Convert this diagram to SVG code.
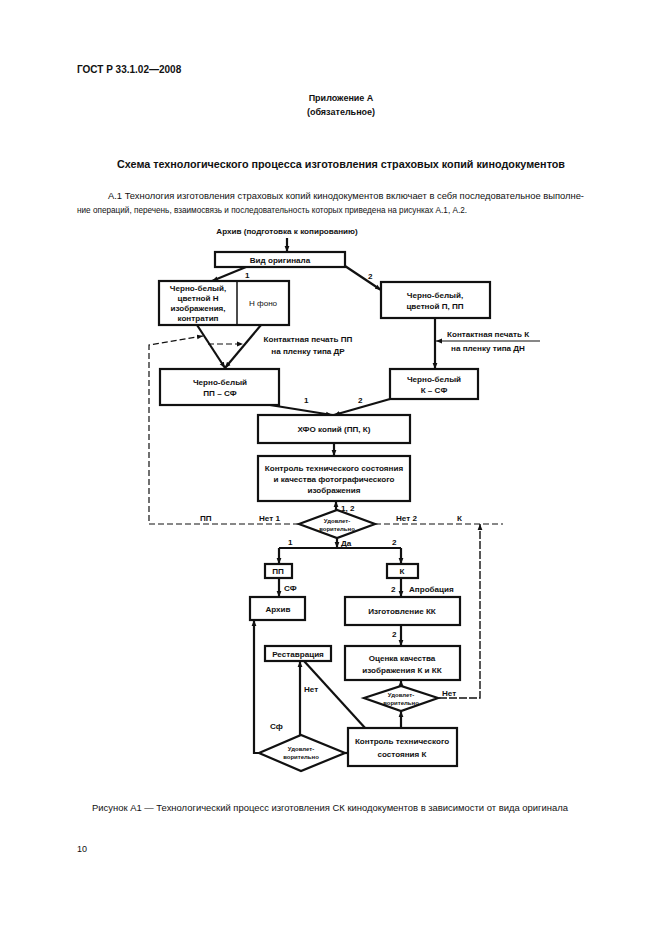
<svg xmlns="http://www.w3.org/2000/svg" width="661" height="936" viewBox="0 0 661 936">
<defs>
<style>
text{font-family:"Liberation Sans",Arial,sans-serif;fill:#111}
.h{font-weight:bold;font-size:10px}
.p{font-size:8.6px}
.t{font-weight:bold;font-size:8.1px;text-anchor:middle}
.l{font-weight:bold;font-size:8.1px}
.s{font-weight:bold;font-size:6px;text-anchor:middle}
.box{fill:#fff;stroke:#111;stroke-width:2.2}
.c{fill:none;stroke:#111;stroke-width:2.2}
.d{fill:none;stroke:#111;stroke-width:1.2;stroke-dasharray:6 3}
</style>
<marker id="a" viewBox="0 0 10 10" refX="10" refY="5" markerWidth="6" markerHeight="6" markerUnits="userSpaceOnUse" orient="auto">
<path d="M0,1 L10,5 L0,9 z" fill="#111"/>
</marker>
</defs>
<rect width="661" height="936" fill="#fff"/>

<text class="h" x="77" y="73">ГОСТ Р 33.1.02—2008</text>
<text class="h" x="341" y="101" text-anchor="middle" style="font-size:9px">Приложение А</text>
<text class="h" x="341" y="115" text-anchor="middle" style="font-size:9px">(обязательное)</text>
<text class="h" x="341" y="168" text-anchor="middle" textLength="448" lengthAdjust="spacingAndGlyphs">Схема технологического процесса изготовления страховых копий кинодокументов</text>
<text class="p" x="108" y="199" textLength="476" lengthAdjust="spacingAndGlyphs">А.1  Технология изготовления страховых копий кинодокументов включает в себя последовательное выполне-</text>
<text class="p" x="77" y="213" textLength="390" lengthAdjust="spacingAndGlyphs">ние операций, перечень, взаимосвязь и последовательность которых приведена на рисунках А.1, А.2.</text>

<g id="connectors">
<line class="c" x1="287" y1="238" x2="287" y2="252" marker-end="url(#a)"/>
<line class="c" x1="246" y1="267" x2="212" y2="281" marker-end="url(#a)"/>
<line class="c" x1="345" y1="266" x2="381" y2="290" marker-end="url(#a)"/>
<line class="c" x1="197" y1="325" x2="225" y2="368" marker-end="url(#a)"/>
<line class="c" x1="261" y1="325" x2="225" y2="368" marker-end="url(#a)"/>
<line class="c" x1="435" y1="318" x2="435" y2="369" marker-end="url(#a)"/>
<line x1="540" y1="341" x2="436" y2="341" stroke="#111" stroke-width="1.2" marker-end="url(#a)"/>
<line class="c" x1="270" y1="405" x2="332" y2="415" marker-end="url(#a)"/>
<line class="c" x1="390" y1="399" x2="334" y2="415" marker-end="url(#a)"/>
<line class="c" x1="334" y1="443" x2="334" y2="456" marker-end="url(#a)"/>
<line class="c" x1="336" y1="510" x2="336" y2="501" marker-end="url(#a)"/>
<line class="c" x1="337" y1="538" x2="337" y2="548" marker-end="url(#a)"/>
<path class="c" d="M279,548 H401"/>
<line class="c" x1="279" y1="548" x2="279" y2="564" marker-end="url(#a)"/>
<line class="c" x1="401" y1="548" x2="401" y2="564" marker-end="url(#a)"/>
<line class="c" x1="279" y1="578" x2="279" y2="597" marker-end="url(#a)"/>
<line class="c" x1="401" y1="578" x2="401" y2="597" marker-end="url(#a)"/>
<line class="c" x1="401" y1="625" x2="401" y2="646" marker-end="url(#a)"/>
<line class="c" x1="401" y1="686" x2="401" y2="680" marker-end="url(#a)"/>
<line class="c" x1="401" y1="728" x2="401" y2="711" marker-end="url(#a)"/>
<path class="c" d="M259,753 H254 V620" marker-end="url(#a)"/>
<line class="c" x1="300" y1="735" x2="300" y2="661" marker-end="url(#a)"/>
<line class="c" x1="304" y1="661" x2="366" y2="729"/>
<line class="c" x1="345" y1="753" x2="348" y2="753"/>
<path d="M439,698 H480 V524" fill="none" stroke="#111" stroke-width="1.4" stroke-dasharray="8 2" marker-end="url(#a)"/>
<path class="d" d="M299,524 H149 V345 L203,336" marker-end="url(#a)"/>
<line class="d" x1="208" y1="344" x2="243" y2="344" marker-end="url(#a)"/>
<line class="d" x1="375" y1="524" x2="503" y2="524"/>
</g>

<g id="n-start"><text class="l" x="287" y="234" text-anchor="middle">Архив (подготовка к копированию)</text></g>
<g id="n-vid"><rect class="box" x="215" y="252" width="130" height="15"/><text class="t" x="280" y="263">Вид оригинала</text></g>
<g id="n-neg"><rect class="box" x="159" y="281" width="130" height="44"/><line x1="237" y1="281" x2="237" y2="325" stroke="#111" stroke-width="1.5"/>
<text class="t" x="198" y="291">Черно-белый,</text><text class="t" x="198" y="301">цветной Н</text><text class="t" x="198" y="311">изображения,</text><text class="t" x="198" y="321">контратип</text>
<text class="t" x="263" y="306" style="font-weight:normal">Н фоно</text></g>
<g id="n-pos"><rect class="box" x="381" y="282" width="109" height="36"/><text class="t" x="435" y="298">Черно-белый,</text><text class="t" x="435" y="309">цветной П, ПП</text></g>
<g id="n-ppsf"><rect class="box" x="160" y="369" width="119" height="36"/><text class="t" x="220" y="385">Черно-белый</text><text class="t" x="220" y="396">ПП – СФ</text></g>
<g id="n-ksf"><rect class="box" x="390" y="369" width="88" height="30"/><text class="t" x="434" y="382">Черно-белый</text><text class="t" x="434" y="393">К – СФ</text></g>
<g id="n-hfo"><rect class="box" x="258" y="415" width="152" height="28"/><text class="t" x="334" y="432">ХФО копий (ПП, К)</text></g>
<g id="n-kontrol"><rect class="box" x="258" y="456" width="152" height="45"/><text class="t" x="334" y="471">Контроль технического состояния</text><text class="t" x="334" y="482">и качества фотографического</text><text class="t" x="334" y="493">изображения</text></g>
<g id="n-d1"><polygon class="box" points="299,524 337,510 375,524 337,538"/><text class="s" x="337" y="523">Удовлет-</text><text class="s" x="337" y="531">ворительно</text></g>
<g id="n-pp"><rect class="box" x="265" y="564" width="27" height="14"/><text class="t" x="278" y="574">ПП</text></g>
<g id="n-k"><rect class="box" x="387" y="564" width="31" height="14"/><text class="t" x="402" y="574">К</text></g>
<g id="n-arhiv"><rect class="box" x="250" y="597" width="55" height="23"/><text class="t" x="278" y="612">Архив</text></g>
<g id="n-izg"><rect class="box" x="345" y="597" width="115" height="28"/><text class="t" x="402" y="614">Изготовление КК</text></g>
<g id="n-ocenka"><rect class="box" x="345" y="646" width="115" height="34"/><text class="t" x="402" y="661">Оценка качества</text><text class="t" x="402" y="673">изображения К и КК</text></g>
<g id="n-rest"><rect class="box" x="265" y="646" width="66" height="15"/><text class="t" x="298" y="657">Реставрация</text></g>
<g id="n-d2"><polygon class="box" points="364,698 401,686 438,698 401,711"/><text class="s" x="401" y="697">Удовлет-</text><text class="s" x="401" y="705">ворительно</text></g>
<g id="n-kk"><rect class="box" x="348" y="728" width="109" height="38"/><text class="t" x="402" y="744">Контроль технического</text><text class="t" x="402" y="757">состояния К</text></g>
<g id="n-d3"><polygon class="box" points="259,753 301,735 345,753 301,771"/><text class="s" x="301" y="751">Удовлет-</text><text class="s" x="301" y="759">ворительно</text></g>

<g id="labels">
<text class="l" x="245" y="278">1</text>
<text class="l" x="368" y="279">2</text>
<text class="l" x="308" y="342" text-anchor="middle">Контактная печать ПП</text>
<text class="l" x="308" y="354" text-anchor="middle">на пленку типа ДР</text>
<text class="l" x="447" y="337">Контактная печать К</text>
<text class="l" x="451" y="351">на пленку типа ДН</text>
<text class="l" x="304" y="403">1</text>
<text class="l" x="358" y="403">2</text>
<text class="l" x="341" y="511">1, 2</text>
<text class="l" x="200" y="521">ПП</text>
<text class="l" x="259" y="521">Нет 1</text>
<text class="l" x="396" y="521">Нет 2</text>
<text class="l" x="457" y="521">К</text>
<text class="l" x="341" y="546">Да</text>
<text class="l" x="288" y="545">1</text>
<text class="l" x="392" y="545">2</text>
<text class="l" x="284" y="591">СФ</text>
<text class="l" x="391" y="592">2</text>
<text class="l" x="409" y="592">Апробация</text>
<text class="l" x="392" y="637">2</text>
<text class="l" x="304" y="692">Нет</text>
<text class="l" x="270" y="729">Сф</text>
<text class="l" x="442" y="696">Нет</text>
</g>

<text class="p" x="92" y="811" textLength="476" lengthAdjust="spacingAndGlyphs">Рисунок А1 — Технологический процесс изготовления СК кинодокументов в зависимости от вида оригинала</text>
<text class="p" x="77" y="852" style="font-size:9px">10</text>
</svg>
